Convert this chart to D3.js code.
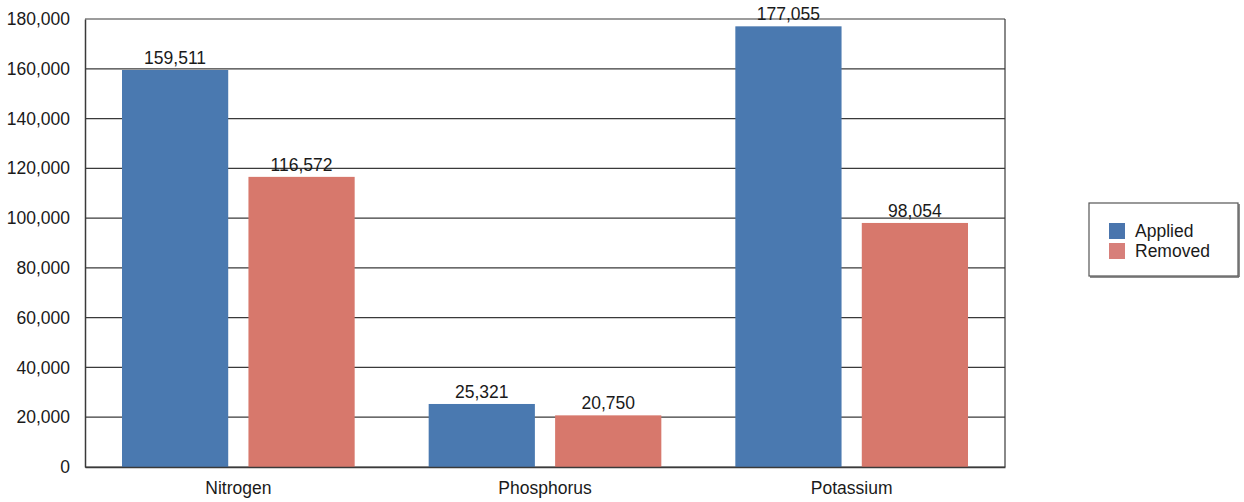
<!DOCTYPE html>
<html>
<head>
<meta charset="utf-8">
<script src="https://cdn.jsdelivr.net/npm/d3@7"></script>
<style>
  body { margin: 0; background: #fff; }
  svg { display: block; font-family: "Liberation Sans", Arial, sans-serif; }
</style>
</head>
<body>
<svg id="chart" width="1244" height="502"></svg>
<script>
// Nutrient balance: applied vs removed (lbs)
const categories = ["Nitrogen", "Phosphorus", "Potassium"];
const seriesNames = ["Applied", "Removed"];
const applied = [159511, 25321, 177055];
const removed = [116572, 20750, 98054];
const yTicks = [0, 20000, 40000, 60000, 80000, 100000, 120000, 140000, 160000, 180000];

const colors = { Applied: "#4a79b0", Removed: "#d7786c" };
const legendColors = { Applied: "#4a75ad", Removed: "#d77f7a" };
const fontSize = 17.5;

const svg = d3.select("#chart");
const margin = { left: 85, right: 239, top: 19, bottom: 35 };
const W = 1244, H = 502;
const plotW = W - margin.left - margin.right;
const plotH = H - margin.top - margin.bottom;

const rows = categories.map((c, i) => ({ category: c, Applied: applied[i], Removed: removed[i] }));

const x0 = d3.scaleBand().domain(categories).range([0, plotW]).paddingInner(0).paddingOuter(0);
const x1 = d3.scaleBand().domain(seriesNames).range([37, x0.bandwidth() - 37]).paddingInner(0.16);
const y = d3.scaleLinear().domain([0, 180000]).range([plotH, 0]);

const g = svg.append("g").attr("transform", `translate(${margin.left},${margin.top})`);

// horizontal gridlines
g.append("g").selectAll("line").data(yTicks).join("line")
  .attr("x1", 0).attr("x2", plotW)
  .attr("y1", d => y(d)).attr("y2", d => y(d))
  .attr("stroke", "#3a3a3a").attr("stroke-width", 1.2);

// right border of plot
g.append("line").attr("x1", plotW).attr("x2", plotW).attr("y1", 0).attr("y2", plotH)
  .attr("stroke", "#3a3a3a").attr("stroke-width", 1.2);

// bars
const groups = g.append("g").selectAll("g").data(rows).join("g")
  .attr("transform", d => `translate(${x0(d.category)},0)`);

groups.selectAll("rect").data(d => seriesNames.map(s => ({ key: s, value: d[s] }))).join("rect")
  .attr("x", d => x1(d.key))
  .attr("width", x1.bandwidth())
  .attr("y", d => y(d.value))
  .attr("height", d => plotH - y(d.value))
  .attr("fill", d => colors[d.key]);

// value labels
groups.selectAll("text").data(d => seriesNames.map(s => ({ key: s, value: d[s] }))).join("text")
  .attr("x", d => x1(d.key) + x1.bandwidth() / 2)
  .attr("y", d => y(d.value) - 6)
  .attr("text-anchor", "middle")
  .attr("font-size", fontSize)
  .attr("fill", "#1a1a1a")
  .text(d => d3.format(",")(d.value));

// y axis
const yAxis = g.append("g").call(d3.axisLeft(y).tickValues(yTicks).tickFormat(d3.format(",")).tickSize(0).tickPadding(15));
yAxis.select(".domain").attr("stroke", "#3a3a3a").attr("stroke-width", 1.5);
yAxis.selectAll("text").attr("font-size", fontSize).attr("fill", "#1a1a1a").attr("font-family", "Liberation Sans, Arial, sans-serif");

// x axis
const xAxis = g.append("g").attr("transform", `translate(0,${plotH})`)
  .call(d3.axisBottom(x0).tickSize(0).tickPadding(15));
xAxis.select(".domain").attr("stroke", "#3a3a3a").attr("stroke-width", 1.5);
xAxis.selectAll("text").attr("font-size", fontSize).attr("fill", "#1a1a1a").attr("font-family", "Liberation Sans, Arial, sans-serif");

// legend
const legend = svg.append("g").attr("transform", "translate(1089,203)");
legend.append("rect").attr("x", 0).attr("y", 0).attr("width", 149).attr("height", 73)
  .attr("fill", "#fff").attr("stroke", "#555").attr("stroke-width", 1.2);
legend.append("line").attr("x1", 1).attr("x2", 150).attr("y1", 74).attr("y2", 74).attr("stroke", "#666").attr("stroke-width", 1.5);
legend.append("line").attr("x1", 150).attr("x2", 150).attr("y1", 1).attr("y2", 74).attr("stroke", "#666").attr("stroke-width", 1.5);
const items = legend.selectAll("g.item").data(seriesNames).join("g").attr("class", "item")
  .attr("transform", (d, i) => `translate(20,${20 + i * 20})`);
items.append("rect").attr("width", 16).attr("height", 16).attr("fill", d => legendColors[d]);
items.append("text").attr("x", 26).attr("y", 14).attr("font-size", fontSize).attr("fill", "#1a1a1a").text(d => d);
</script>
</body>
</html>
